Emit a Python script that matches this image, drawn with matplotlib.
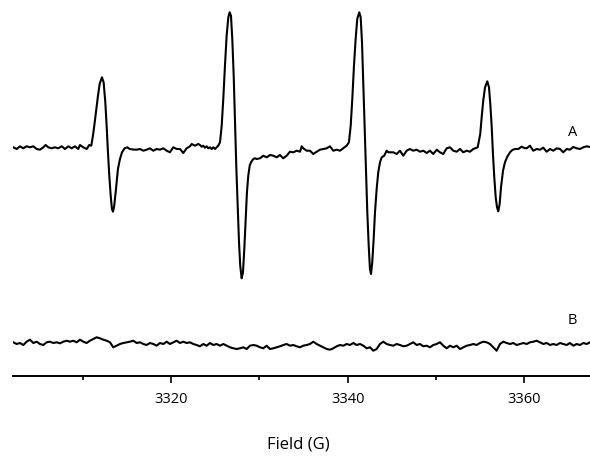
import numpy as np
import matplotlib
matplotlib.use("Agg")
import matplotlib.pyplot as plt
from matplotlib.ticker import MultipleLocator

# spectrum A: field (G) and signal (a.u.)
field_a = [
    3302.14, 3302.52, 3302.90, 3303.27, 3303.65, 3304.03, 3304.40, 3304.79,
    3305.16, 3305.53, 3305.81, 3306.10, 3306.49, 3306.86, 3307.23, 3307.62,
    3307.99, 3308.37, 3308.75, 3309.12, 3309.50, 3309.69, 3310.06, 3310.45,
    3310.74, 3310.97, 3311.16, 3311.36, 3311.54, 3311.73, 3311.92, 3312.18,
    3312.37, 3312.56, 3312.71, 3312.86, 3313.01, 3313.17, 3313.31, 3313.43,
    3313.57, 3313.77, 3313.99, 3314.22, 3314.45, 3314.75, 3315.05, 3315.32,
    3315.69, 3316.11, 3316.49, 3316.86, 3317.24, 3317.62, 3317.99, 3318.38,
    3318.75, 3319.12, 3319.51, 3319.88, 3320.26, 3320.64, 3321.02, 3321.39,
    3321.77, 3322.15, 3322.34, 3322.71, 3323.09, 3323.28, 3323.47, 3323.65,
    3323.85, 3324.04, 3324.22, 3324.41, 3324.61, 3324.79, 3324.98, 3325.17,
    3325.35, 3325.55, 3325.74, 3325.92, 3326.11, 3326.30, 3326.49, 3326.64,
    3326.79, 3326.94, 3327.10, 3327.24, 3327.39, 3327.55, 3327.70, 3327.84,
    3328.00, 3328.15, 3328.30, 3328.46, 3328.60, 3328.75, 3328.91, 3329.06,
    3329.32, 3329.51, 3329.70, 3330.08, 3330.45, 3330.83, 3331.21, 3331.58,
    3331.97, 3332.34, 3332.71, 3333.10, 3333.47, 3333.85, 3334.23, 3334.61,
    3334.80, 3334.98, 3335.36, 3335.74, 3336.11, 3336.50, 3336.87, 3337.24,
    3337.63, 3338.00, 3338.38, 3338.76, 3339.14, 3339.51, 3339.89, 3340.15,
    3340.35, 3340.53, 3340.72, 3340.91, 3341.09, 3341.32, 3341.48, 3341.63,
    3341.77, 3341.93, 3342.08, 3342.23, 3342.39, 3342.53, 3342.65, 3342.79,
    3342.95, 3343.10, 3343.29, 3343.47, 3343.67, 3343.86, 3344.15, 3344.42,
    3344.61, 3345.17, 3345.56, 3345.93, 3346.30, 3346.69, 3347.06, 3347.44,
    3347.82, 3348.20, 3348.57, 3348.95, 3349.33, 3349.70, 3350.09, 3350.46,
    3350.83, 3351.22, 3351.59, 3351.97, 3352.35, 3352.73, 3353.10, 3353.48,
    3353.86, 3354.23, 3354.73, 3354.88, 3355.02, 3355.18, 3355.36, 3355.56,
    3355.82, 3356.01, 3356.16, 3356.32, 3356.46, 3356.61, 3356.77, 3356.92,
    3357.06, 3357.22, 3357.37, 3357.60, 3357.82, 3358.05, 3358.39, 3358.65,
    3358.95, 3359.33, 3359.71, 3360.01, 3360.28, 3360.65, 3361.03, 3361.41,
    3361.79, 3362.16, 3362.54, 3362.92, 3363.29, 3363.68, 3364.05, 3364.42,
    3364.81, 3365.18, 3365.56, 3365.94, 3366.32, 3366.69, 3367.07, 3367.45,
]
sig_a = [
    0.7, -1.0, 1.7, -0.3, 1.7, 0.7, 1.7, -1.0,
    -1.7, 0.7, 3.0, 0.7, -0.3, 0.7, -0.3, 1.7,
    -1.0, 1.7, -0.3, 1.7, -1.0, 3.0, 0.7, -1.0,
    3.0, 2.3, 12.3, 25.7, 39.0, 52.3, 64.0, 70.7,
    65.7, 45.7, 22.3, -4.3, -27.7, -47.7, -61.0, -63.7,
    -57.7, -41.0, -21.0, -11.0, -4.3, -0.3, 0.7, -1.0,
    -1.5, -1.7, -1.0, -2.7, -1.7, -0.3, -2.7, -1.0,
    -1.7, -0.3, -2.7, -4.3, 0.7, -1.0, -1.0, -5.0,
    -0.3, 1.7, 4.0, 2.3, 4.0, 3.0, 1.3, 2.3,
    0.3, 1.7, -0.3, 0.7, -1.0, 0.7, -1.0, 0.7,
    2.3, 5.7, 22.3, 49.0, 82.3, 112.3, 130.7, 135.7,
    132.3, 109.0, 72.3, 29.0, -17.7, -57.7, -94.3, -117.7,
    -130.3, -124.3, -101.0, -71.0, -44.3, -27.7, -17.7, -14.3,
    -11.0, -10.3, -11.0, -10.3, -7.7, -9.3, -7.0, -7.7,
    -9.3, -7.0, -10.3, -7.7, -3.7, -4.3, -2.7, -3.7,
    1.7, -0.3, -2.7, -2.7, -6.0, -3.7, -1.7, -1.0,
    -0.3, 1.7, -2.7, -1.7, -2.7, -0.3, 2.3, 5.7,
    22.3, 49.0, 82.3, 109.0, 129.0, 135.7, 130.7, 105.7,
    65.7, 22.3, -21.0, -64.3, -97.7, -121.0, -126.0, -114.3,
    -91.0, -64.3, -41.0, -24.3, -14.3, -9.3, -7.7, -2.7,
    -4.3, -4.3, -6.0, -2.7, -7.7, -2.7, -1.0, -2.7,
    -1.7, -3.7, -2.7, -5.0, -2.7, -6.0, -1.7, -4.3,
    -6.0, -0.3, 0.7, -2.7, -3.7, -1.0, -4.3, -2.7,
    -3.7, -1.0, 0.7, 7.3, 14.0, 30.7, 47.3, 60.7,
    66.7, 60.7, 44.0, 20.7, -6.0, -29.3, -49.3, -59.3,
    -63.3, -56.0, -39.3, -22.7, -14.3, -9.3, -4.3, -2.0,
    -1.0, -1.0, 1.3, 0.0, -0.3, 2.3, -2.7, -1.0,
    -1.7, 0.3, -3.7, -1.0, -2.7, -0.3, -1.0, -4.3,
    -1.0, -1.7, 1.0, -0.3, -1.0, 0.7, 1.7, 1.0,
]

# spectrum B: evenly spaced field sweep, signal (a.u.)
sig_b = [
    1.7, 0.0, 1.0, -1.0, 2.3, 4.3, 1.0, 2.3, 0.0, -1.0,
    1.7, 2.3, 1.0, 1.7, 0.7, 2.3, 3.3, 2.3, 3.3, 1.7,
    4.3, 2.3, 1.0, 3.3, 5.0, 6.7, 5.7, 4.3, 3.3, 1.7,
    -3.3, -1.7, 0.0, 1.0, 1.7, 2.3, 3.3, 1.0, 1.7, 0.0,
    -1.0, 1.0, 0.0, -1.7, 1.0, 0.0, 2.3, 0.0, 1.7, 3.3,
    1.0, 2.3, 1.0, 1.7, 0.0, -1.0, -2.3, 0.0, -1.7, 1.0,
    -1.0, 0.0, -1.7, 0.0, -1.7, -3.3, -4.3, -5.0, -4.3, -3.3,
    -5.0, -1.7, -1.0, -1.7, -3.3, -4.3, -1.7, -5.0, -4.3, -3.3,
    -2.3, -1.0, 0.0, -1.7, -1.0, -2.3, -3.3,
    -1.7, -1.0, 0.0, 2.3, 0.0, -1.7, -3.3, -5.0, -5.7, -4.3,
    -2.3, -1.0, -1.7, 0.0, -1.0, 1.0, -1.0, 0.0, -1.7, -4.3,
    -3.3, -6.7, -5.0, 0.0, 2.3, 0.0, -1.0, -1.7, 0.0, -1.0,
    -2.3, -1.7, 0.0, 1.7, -1.0, 0.0, -2.3, -1.7, -3.3, -1.0,
    0.0, 1.7, -1.7, -4.3, -1.7, -3.3, -1.7, -5.0, -3.3, -1.7,
    -1.0, 0.0, -1.0, 1.0, 2.3, 1.7, 0.0, -3.3, -6.7, 0.0,
    2.3, 1.0, 0.0, 1.0, -1.0, 0.0, 1.0, 0.0, 1.7, 2.3,
    3.3, 1.7, 0.0, 1.0, -1.0, 0.0, -1.0, 1.0, 0.0, -1.0,
    1.0, -1.7, 0.0, -1.0, 1.0, 0.0, 1.7,
]
field_b = np.linspace(3302.14, 3367.45, len(sig_b))

offset_b = -196

plt.rcParams['font.family'] = ['Open Sans', 'DejaVu Sans']

fig = plt.figure(figsize=(5.9, 4.6), dpi=100)
ax = fig.add_axes([13.3 / 590, (460 - 376.7) / 460, (590 - 13.3) / 590, 376.7 / 460])

ax.plot(field_a, sig_a, color='black', lw=1.5)
ax.plot(field_b, np.array(sig_b) + offset_b, color='black', lw=1.5)

ax.text(3365.5, 17, 'A', fontsize=10.5, ha='center', va='center')
ax.text(3365.5, -172, 'B', fontsize=10.5, ha='center', va='center')

ax.set_xlim(3302.14, 3367.45)
ax.set_ylim(-227.7, 149)

for s in ['left', 'top', 'right']:
    ax.spines[s].set_visible(False)
ax.spines['bottom'].set_linewidth(1.4)
ax.set_yticks([])
ax.xaxis.set_major_locator(MultipleLocator(20))
ax.xaxis.set_minor_locator(MultipleLocator(10))
ax.tick_params(axis='x', which='major', length=5, width=1.2, pad=6, labelsize=10.5)
ax.tick_params(axis='x', which='minor', length=3, width=1.2)

fig.text(298 / 590, 1 - 445 / 460, 'Field (G)', fontsize=12, ha='center', va='center')

fig.savefig('out.png', dpi=100)
